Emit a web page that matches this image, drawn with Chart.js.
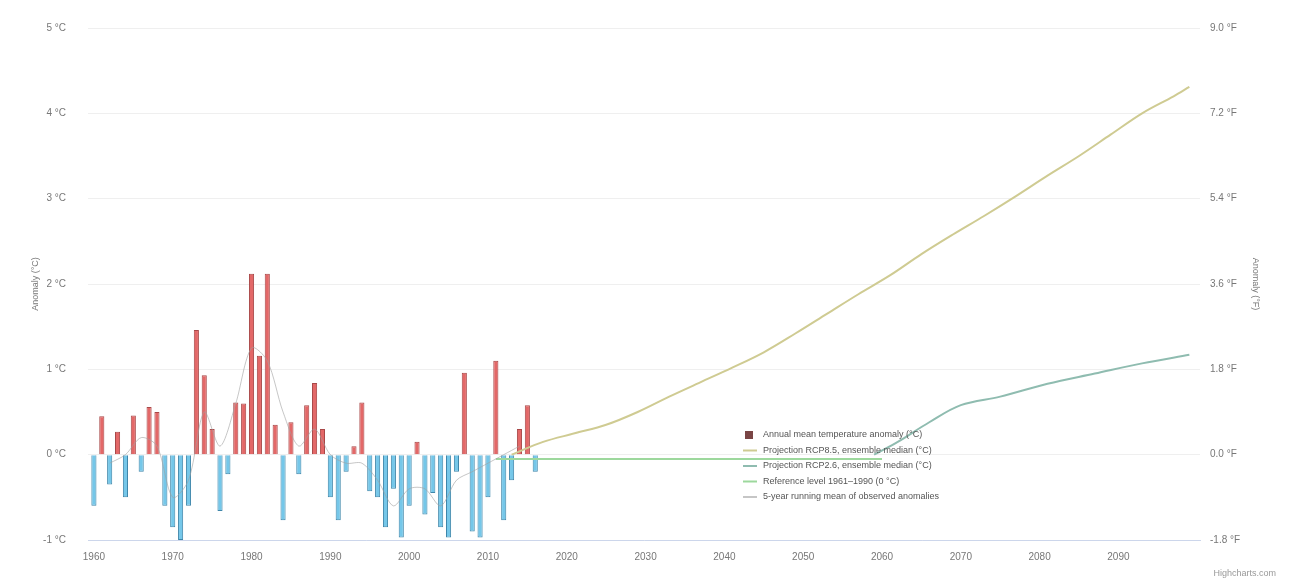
<!DOCTYPE html>
<html>
<head>
<meta charset="utf-8">
<script src="https://cdn.jsdelivr.net/npm/chart.js@4.4.1/dist/chart.umd.min.js"></script>
<style>
  html, body { margin: 0; padding: 0; background: #ffffff; }
  #wrap { position: relative; width: 1304px; height: 587px; }
</style>
</head>
<body>
<div id="wrap"><canvas id="c" width="1304" height="587"></canvas></div>
<script>
// ---------- data ----------
const years = [1960,1961,1962,1963,1964,1965,1966,1967,1968,1969,
               1970,1971,1972,1973,1974,1975,1976,1977,1978,1979,
               1980,1981,1982,1983,1984,1985,1986,1987,1988,1989,
               1990,1991,1992,1993,1994,1995,1996,1997,1998,1999,
               2000,2001,2002,2003,2004,2005,2006,2007,2008,2009,
               2010,2011,2012,2013,2014,2015,2016];
const anomaly = [-0.6, 0.45,-0.35, 0.27,-0.5, 0.46,-0.2, 0.56, 0.5,-0.6,
                 -0.85,-1.0,-0.6, 1.46, 0.93, 0.3,-0.66,-0.23, 0.61, 0.6,
                  2.12, 1.16, 2.12, 0.35,-0.77, 0.38,-0.23, 0.58, 0.84, 0.3,
                 -0.5,-0.77,-0.2, 0.1, 0.61,-0.43,-0.5,-0.85,-0.4,-0.97,
                 -0.6, 0.15,-0.7,-0.45,-0.85,-0.97,-0.2, 0.96,-0.9,-0.97,
                 -0.5, 1.1,-0.77,-0.3, 0.3, 0.58,-0.2];

const meanYears = [1962,1964,1966,1968,1970,1972,1974,1976,1978,1980,1982,1984,1986,1988,1990,1992,1994,1996,1998,2000,2002,2004,2006,2008,2010,2012,2014];
const meanVals  = [-0.1, 0.0, 0.2, 0.1,-0.5,-0.3, 0.5, 0.1, 0.6, 1.25, 1.1, 0.5, 0.1, 0.3, 0.0,-0.1,-0.1,-0.3,-0.6,-0.4,-0.4,-0.6,-0.3,-0.2,-0.1, 0.0, 0.1];

const highYears = [2013,2017,2021,2025,2029,2033,2037,2041,2045,2049,2053,2057,2061,2065,2069,2073,2077,2081,2085,2089,2093,2097,2099];
const highVals  = [0.0, 0.15,0.25,0.35,0.5, 0.68,0.85,1.02,1.2, 1.42,1.65,1.88,2.1, 2.35,2.58,2.8, 3.03,3.27,3.5, 3.75,4.0, 4.2, 4.31];

const lowYears = [2059,2062,2066,2070,2075,2081,2087,2093,2099];
const lowVals  = [0.0, 0.15,0.38,0.58,0.68,0.83,0.95,1.07,1.17];

const refYears = [2011,2060];
const refVals  = [-0.05,-0.05];

const xTicks = [1960,1970,1980,1990,2000,2010,2020,2030,2040,2050,2060,2070,2080,2090];
const leftTicks = [-1,0,1,2,3,4,5];
const rightTicks = [-1.8,0,1.8,3.6,5.4,7.2,9.0];

const labels = [
  'Annual mean temperature anomaly (°C)',
  'Projection RCP8.5, ensemble median (°C)',
  'Projection RCP2.6, ensemble median (°C)',
  'Reference level 1961–1990 (0 °C)',
  '5-year running mean of observed anomalies'
];
const leftTitle = 'Anomaly (°C)';
const rightTitle = 'Anomaly (°F)';
const credit = 'Highcharts.com';

// ---------- chart ----------
const FONT = "'Liberation Sans', Arial, sans-serif";
const pts = (xs, ys) => xs.map((x, i) => ({x: x, y: ys[i]}));

const legendPlugin = {
  id: 'customLegend',
  afterDraw(chart) {
    const ctx = chart.ctx;
    ctx.save();
    ctx.font = '9px ' + FONT;
    ctx.textBaseline = 'middle';
    const x0 = 743, y0 = 435, dy = 15.5;
    chart.data.datasets.forEach((ds, i) => {
      const y = y0 + i * dy;
      if (ds.type === 'bar') {
        ctx.fillStyle = '#7a4545';
        ctx.fillRect(x0 + 2, y - 4, 8, 8);
      } else {
        ctx.strokeStyle = ds.borderColor;
        ctx.lineWidth = 2;
        ctx.beginPath();
        ctx.moveTo(x0, y);
        ctx.lineTo(x0 + 14, y);
        ctx.stroke();
      }
      ctx.fillStyle = '#555';
      ctx.fillText(ds.label, x0 + 20, y);
    });
    ctx.fillStyle = '#999';
    ctx.textAlign = 'right';
    ctx.fillText(credit, 1276, 574);
    ctx.restore();
  }
};

new Chart(document.getElementById('c'), {
  data: {
    datasets: [
      {
        type: 'bar', label: labels[0],
        data: pts(years, anomaly),
        backgroundColor: anomaly.map(v => v >= 0 ? 'rgba(226,96,96,0.95)' : 'rgba(110,196,232,0.95)'),
        borderColor: anomaly.map(v => v >= 0 ? '#a84848' : '#3e86aa'),
        borderWidth: 1,
        barPercentage: 0.65, categoryPercentage: 1.0,
        yAxisID: 'y', order: 2
      },
      {
        type: 'line', label: labels[1], data: pts(highYears, highVals),
        borderColor: '#cfcb92', borderWidth: 2, pointRadius: 0, tension: 0.35,
        yAxisID: 'y', order: 1
      },
      {
        type: 'line', label: labels[2], data: pts(lowYears, lowVals),
        borderColor: '#8fbcb0', borderWidth: 2, pointRadius: 0, tension: 0.35,
        yAxisID: 'y', order: 1
      },
      {
        type: 'line', label: labels[3], data: pts(refYears, refVals),
        borderColor: '#9dd89d', borderWidth: 2, pointRadius: 0,
        yAxisID: 'y', order: 1
      },
      {
        type: 'line', label: labels[4], data: pts(meanYears, meanVals),
        borderColor: 'rgba(160,160,160,0.6)', borderWidth: 1, pointRadius: 0, tension: 0.3,
        yAxisID: 'y', order: 0
      }
    ]
  },
  plugins: [legendPlugin],
  options: {
    responsive: false,
    animation: false,
    layout: { padding: { left: 26, right: 39, top: 22, bottom: 17 } },
    plugins: { legend: { display: false }, tooltip: { enabled: false } },
    scales: {
      x: {
        type: 'linear', min: 1959.25, max: 2100.35, offset: false,
        afterBuildTicks: s => { s.ticks = xTicks.map(v => ({value: v})); },
        afterFit: s => { s.height = 30; },
        grid: { display: false, drawTicks: false, offset: false },
        border: { color: '#ccd6eb' },
        ticks: { font: { family: FONT, size: 10 }, color: '#777', padding: 11, maxRotation: 0,
                 callback: v => String(v) }
      },
      y: {
        position: 'left', min: -1, max: 5,
        afterBuildTicks: s => { s.ticks = leftTicks.map(v => ({value: v})); },
        afterFit: s => { s.width = 62; },
        grid: { color: '#efefef', drawTicks: false },
        border: { display: false },
        ticks: { font: { family: FONT, size: 10 }, color: '#777', padding: 22,
                 callback: v => v + ' °C' },
        title: { display: true, text: leftTitle, font: { family: FONT, size: 9 }, color: '#777', padding: 4 }
      },
      y2: {
        position: 'right', min: -1.8, max: 9.0,
        afterBuildTicks: s => { s.ticks = rightTicks.map(v => ({value: v})); },
        afterFit: s => { s.width = 65; },
        grid: { display: false, drawTicks: false },
        border: { display: false },
        ticks: { font: { family: FONT, size: 10 }, color: '#777', padding: 10,
                 callback: v => v.toFixed(1) + ' °F' },
        title: { display: true, text: rightTitle, font: { family: FONT, size: 9 }, color: '#777', padding: 4 }
      }
    }
  }
});
</script>
</body>
</html>
